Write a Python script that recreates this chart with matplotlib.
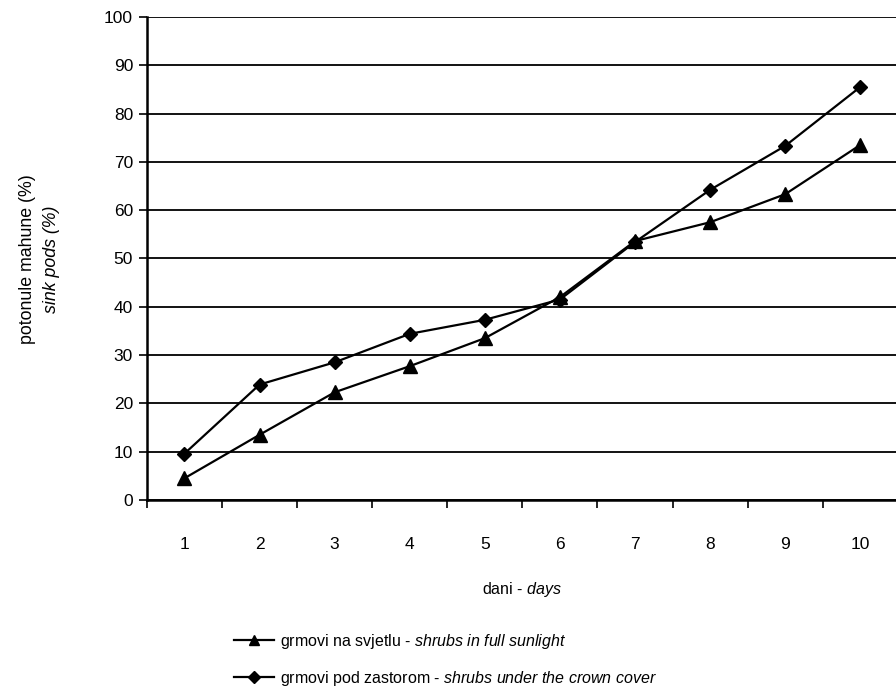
import numpy as np
import matplotlib
matplotlib.use("Agg")
import matplotlib.pyplot as plt

fs = 11.5

plt.rcParams['font.family'] = ['Liberation Sans', 'DejaVu Sans']
plt.rcParams['mathtext.fontset'] = 'custom'
plt.rcParams['mathtext.rm'] = 'Liberation Sans'
plt.rcParams['mathtext.it'] = 'Liberation Sans:italic'

# ---------------------------------------------------------------
# Data
# ---------------------------------------------------------------
days = [1, 2, 3, 4, 5, 6, 7, 8, 9, 10]
sunlight = [4.5, 13.5, 22.3, 27.7, 33.5, 42.0, 53.6, 57.5, 63.3, 73.5]
crown_cover = [9.6, 23.9, 28.5, 34.4, 37.3, 41.5, 53.4, 64.2, 73.3, 85.5]
yticks = [0, 10, 20, 30, 40, 50, 60, 70, 80, 90, 100]

fig = plt.figure(figsize=(8.96, 6.95), dpi=100)
ax = fig.add_axes([0.164, 0.2806, 0.838, 0.695])

x = np.arange(1, len(days) + 1)
ax.plot(x, sunlight, color='black', lw=1.6, marker='^', ms=10,
        label=r'grmovi na svjetlu - $\it{shrubs\ in\ full\ sunlight}$')
ax.plot(x, crown_cover, color='black', lw=1.6, marker='D', ms=7.5,
        label=r'grmovi pod zastorom - $\it{shrubs\ under\ the\ crown\ cover}$')

ax.set_xlim(0.5, len(days) + 0.5)
ax.set_ylim(0, 100)
ax.set_yticks(yticks)
ax.yaxis.grid(True, color='black', lw=1.3)
ax.set_axisbelow(True)

# category ticks sit between the categories, labels at the centres
ax.set_xticks(np.arange(0.5, len(days) + 1, 1.0))
ax.set_xticklabels([])
ax.set_xticks(x, minor=True)
ax.set_xticklabels([str(d) for d in days], minor=True)
ax.tick_params(axis='x', which='minor', length=0, pad=27, labelsize=12.5)
ax.tick_params(axis='x', which='major', length=6, width=1.2, direction='out')
ax.tick_params(axis='y', length=6, width=1.2, direction='out', pad=4, labelsize=12.5)

for s in ['top', 'right']:
    ax.spines[s].set_visible(False)
ax.spines['left'].set_linewidth(1.8)
ax.spines['bottom'].set_linewidth(1.8)

ax.set_xlabel(r'dani - $\it{days}$', fontsize=fs, labelpad=20)
fig.text(0.031, 0.627, 'potonule mahune (%)', rotation=90, fontsize=12.75,
         ha='center', va='center')
fig.text(0.058, 0.627, 'sink pods (%)', rotation=90, fontsize=12.75,
         style='italic', ha='center', va='center')

ax.legend(loc='upper left', bbox_to_anchor=(0.245, 0.112), bbox_transform=fig.transFigure,
          frameon=False, fontsize=fs, handlelength=2.5, handletextpad=0.4,
          labelspacing=1.15, markerscale=0.75)

plt.savefig("out.png", dpi=100)
